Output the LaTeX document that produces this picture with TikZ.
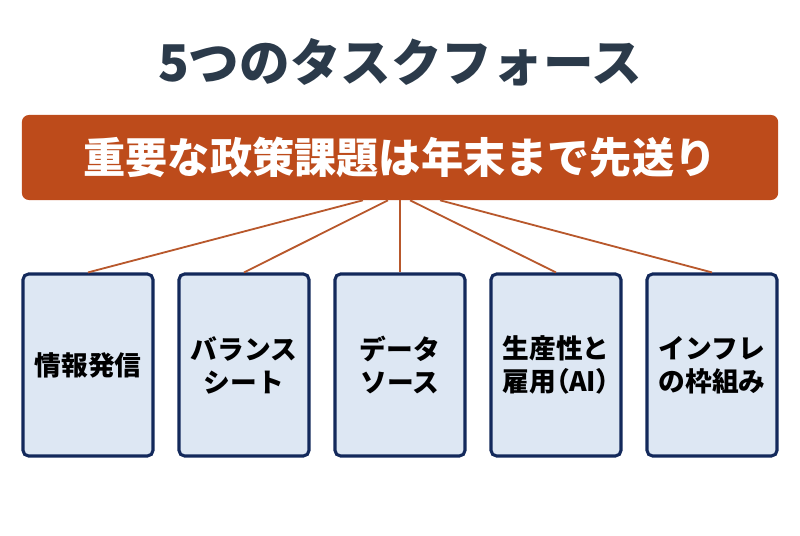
\documentclass[tikz,border=0pt]{standalone}
\usepackage{fontspec}
\newfontfamily\jpfont{Noto Sans CJK JP}
\newfontfamily\jppalt{Noto Sans CJK JP}[RawFeature=+palt]
\definecolor{titleslate}{HTML}{2B3A4A}
\definecolor{bannerrust}{HTML}{BD4B1B}
\definecolor{linkrust}{HTML}{B8582C}
\definecolor{boxnavy}{HTML}{13295B}
\definecolor{boxfill}{HTML}{DDE7F3}
\begin{document}
\begin{tikzpicture}[x=0.025cm,y=0.025cm,
    banner/.style={fill=bannerrust, rounded corners=5pt, minimum width=18.9cm, minimum height=2.125cm,
        text=white, font=\jpfont\bfseries\fontsize{30}{34}\selectfont},
    taskbox/.style={draw=boxnavy, fill=boxfill, line width=2.2pt, rounded corners=4pt,
        minimum width=3.25cm, minimum height=4.55cm, text width=2.8cm, align=center, text=black,
        font=\jpfont\bfseries\fontsize{19}{23.5}\selectfont},
    link/.style={draw=linkrust, line width=1.3pt}]
    % Fix the page size
    \useasboundingbox (0,0) rectangle (800,536);

    % Draw the title and the banner
    \node[font=\jpfont\bfseries\fontsize{36}{42}\selectfont, text=titleslate] (title) at (400,474) {5つのタスクフォース};
    \node[banner] (banner) at (400,378.5) {重要な政策課題は年末まで先送り};

    % Draw the task boxes and link them to the banner
    \foreach \n/\x/\dx/\txt in {1/88/-37/情報発信, 2/244/-12/{バランス\\シート}, 3/400/0/{データ\\ソース},
        4/556/10/{生産性と\\雇用{\jppalt （AI）}}, 5/712/40/{インフレ\\の枠組み}} {
        \node[taskbox] (task\n) at (\x,171) {\txt};
        \coordinate (start\n) at ([xshift=\dx*0.025cm]banner.south);
        \draw[link] (start\n) -- (task\n.north);
    }
\end{tikzpicture}
\end{document}
